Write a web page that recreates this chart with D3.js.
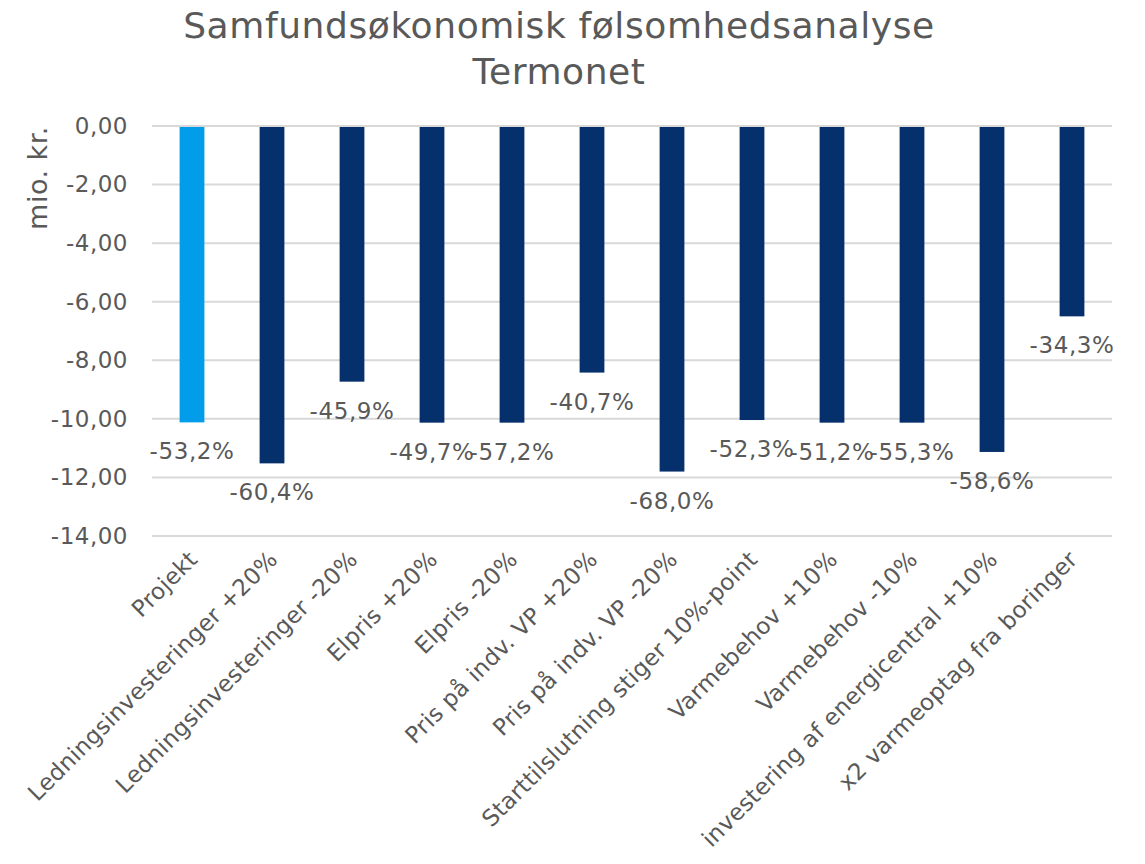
<!DOCTYPE html>
<html>
<head>
<meta charset="utf-8">
<script src="https://cdn.jsdelivr.net/npm/d3@7"></script>
<style>
  html, body { margin: 0; padding: 0; background: #fff; }
  svg { display: block; }
  text { font-family: "DejaVu Sans", Verdana, sans-serif; fill: #595959; }
</style>
</head>
<body>
<svg id="chart" width="1145" height="864"></svg>
<script>
const categories = [
  "Projekt",
  "Ledningsinvesteringer +20%",
  "Ledningsinvesteringer -20%",
  "Elpris +20%",
  "Elpris -20%",
  "Pris på indv. VP +20%",
  "Pris på indv. VP -20%",
  "Starttilslutning stiger 10%-point",
  "Varmebehov +10%",
  "Varmebehov -10%",
  "investering af energicentral +10%",
  "x2 varmeoptag fra boringer"
];
const values = [-10.12, -11.52, -8.73, -10.13, -10.13, -8.42, -11.80, -10.04, -10.13, -10.13, -11.13, -6.50];
const pctLabels = ["-53,2%", "-60,4%", "-45,9%", "-49,7%", "-57,2%", "-40,7%", "-68,0%", "-52,3%", "-51,2%", "-55,3%", "-58,6%", "-34,3%"];
const yTicks = [0, -2, -4, -6, -8, -10, -12, -14];
const titleLines = ["Samfundsøkonomisk følsomhedsanalyse", "Termonet"];
const yAxisTitle = "mio. kr.";

const svg = d3.select("#chart");
const margin = { left: 152, right: 1112, top: 126, bottom: 536 };

const x = d3.scaleBand().domain(categories).range([margin.left, margin.right]).paddingInner(0.69).paddingOuter(0.345);
const y = d3.scaleLinear().domain([-14, 0]).range([margin.bottom, margin.top]);

const fmt = v => d3.format(".2f")(v).replace(".", ",").replace("−", "-");

// gridlines
svg.append("g").selectAll("line").data(yTicks).join("line")
  .attr("x1", margin.left).attr("x2", margin.right)
  .attr("y1", d => y(d)).attr("y2", d => y(d))
  .attr("stroke", "#d9d9d9").attr("stroke-width", 2);

// y axis labels
const yAxis = d3.axisLeft(y).tickValues(yTicks).tickSize(0).tickPadding(0).tickFormat(fmt);
const yg = svg.append("g").attr("transform", `translate(${margin.left - 24},0)`).call(yAxis);
yg.select(".domain").remove();
yg.selectAll("text").attr("font-size", 23).attr("fill", "#595959")
  .style("font-family", '"DejaVu Sans", Verdana, sans-serif').attr("letter-spacing", 0.5);

// bars
svg.append("g").selectAll("rect").data(values).join("rect")
  .attr("x", (d, i) => x(categories[i]))
  .attr("width", x.bandwidth())
  .attr("y", y(0) + 1)
  .attr("height", d => y(d) - y(0) - 1)
  .attr("fill", (d, i) => i === 0 ? "#029dea" : "#06306c");

// data labels
svg.append("g").selectAll("text").data(values).join("text")
  .attr("x", (d, i) => x(categories[i]) + x.bandwidth() / 2)
  .attr("y", d => y(d) + 37)
  .attr("text-anchor", "middle")
  .attr("font-size", 23)
  .attr("letter-spacing", 0.6)
  .text((d, i) => pctLabels[i]);

// x axis category labels
const xAxis = d3.axisBottom(x).tickSize(0).tickPadding(0);
const xg = svg.append("g").attr("transform", `translate(0,${margin.bottom})`).call(xAxis);
xg.select(".domain").remove();
xg.selectAll("text")
  .attr("font-size", 23)
  .attr("fill", "#595959")
  .style("font-family", '"DejaVu Sans", Verdana, sans-serif')
  .attr("letter-spacing", 0.3)
  .attr("text-anchor", "end")
  .attr("dy", null)
  .attr("y", 0)
  .attr("transform", "translate(-5,13) rotate(-45)")
  .attr("dominant-baseline", "hanging");

// y axis title
svg.append("text")
  .attr("transform", "translate(47,178) rotate(-90)")
  .attr("text-anchor", "middle")
  .attr("font-size", 27)
  .attr("letter-spacing", 0.5)
  .text(yAxisTitle);

// chart title
svg.append("g").selectAll("text").data(titleLines).join("text")
  .attr("x", 559)
  .attr("y", (d, i) => 38 + i * 46)
  .attr("text-anchor", "middle")
  .attr("font-size", 36)
  .attr("letter-spacing", 0.6)
  .attr("fill", "#606060")
  .text(d => d);
</script>
</body>
</html>
